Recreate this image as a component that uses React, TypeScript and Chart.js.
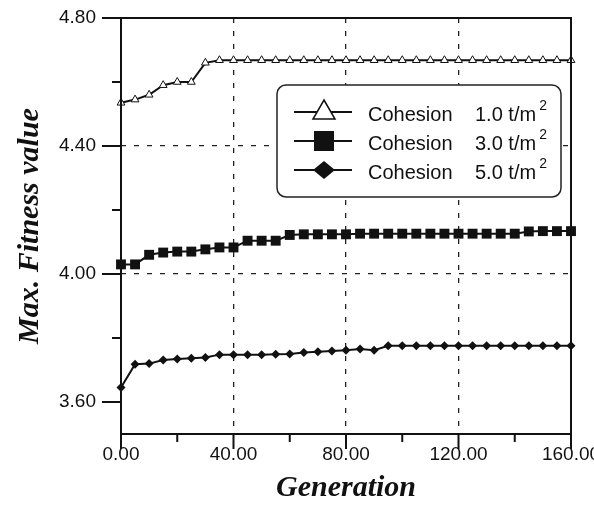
import React, { useEffect, useRef } from "react";
import { Chart, registerables } from "chart.js";

Chart.register(...registerables);

const generations = [0, 5, 10, 15, 20, 25, 30, 35, 40, 45, 50, 55, 60, 65, 70, 75, 80, 85, 90, 95, 100, 105, 110, 115, 120, 125, 130, 135, 140, 145, 150, 155, 160];

const cohesion1 = [4.535, 4.545, 4.56, 4.59, 4.6, 4.6, 4.66, 4.668, 4.668, 4.668, 4.668, 4.668, 4.668, 4.668, 4.668, 4.668, 4.668, 4.668, 4.668, 4.668, 4.668, 4.668, 4.668, 4.668, 4.668, 4.668, 4.668, 4.668, 4.668, 4.668, 4.668, 4.668, 4.668];
const cohesion3 = [4.03, 4.03, 4.06, 4.067, 4.07, 4.07, 4.077, 4.083, 4.083, 4.104, 4.104, 4.104, 4.122, 4.124, 4.124, 4.124, 4.124, 4.126, 4.126, 4.126, 4.126, 4.126, 4.126, 4.126, 4.126, 4.126, 4.126, 4.126, 4.126, 4.133, 4.134, 4.134, 4.134];
const cohesion5 = [3.645, 3.718, 3.72, 3.731, 3.734, 3.737, 3.739, 3.748, 3.748, 3.748, 3.748, 3.749, 3.75, 3.755, 3.757, 3.759, 3.762, 3.766, 3.762, 3.776, 3.776, 3.776, 3.776, 3.776, 3.776, 3.776, 3.776, 3.776, 3.776, 3.776, 3.776, 3.776, 3.776];

const xMajorTicks = [0, 40, 80, 120, 160];
const xMinorTicks = [20, 60, 100, 140];
const yMajorTicks = [3.6, 4.0, 4.4, 4.8];
const yMinorTicks = [3.8, 4.2, 4.6];
const xGridValues = [40, 80, 120];
const yGridValues = [4.0, 4.4];

const legendNames = ["Cohesion", "Cohesion", "Cohesion"];
const legendValues = ["1.0 t/m", "3.0 t/m", "5.0 t/m"];
const legendSup = "2";

const SANS = "'Liberation Sans', Arial, sans-serif";
const SERIF = "'Liberation Serif', 'Times New Roman', serif";

function toPoints(ys: number[]) {
  return generations.map((g, i) => ({ x: g, y: ys[i] }));
}

const framePlugin = {
  id: "frame",
  afterDatasetsDraw(chart: any) {
    const { ctx, chartArea, scales } = chart;
    const { left, right, top, bottom } = chartArea;
    ctx.save();
    ctx.strokeStyle = "#111";
    ctx.lineWidth = 2;
    ctx.strokeRect(left, top, right - left, bottom - top);
    ctx.lineWidth = 2;
    ctx.beginPath();
    yMajorTicks.forEach((v) => {
      const y = scales.y.getPixelForValue(v);
      ctx.moveTo(left - 19, y);
      ctx.lineTo(left, y);
    });
    yMinorTicks.forEach((v) => {
      const y = scales.y.getPixelForValue(v);
      ctx.moveTo(left - 9, y);
      ctx.lineTo(left, y);
    });
    xMajorTicks.forEach((v) => {
      const x = scales.x.getPixelForValue(v);
      ctx.moveTo(x, bottom);
      ctx.lineTo(x, bottom + 15);
    });
    xMinorTicks.forEach((v) => {
      const x = scales.x.getPixelForValue(v);
      ctx.moveTo(x, bottom);
      ctx.lineTo(x, bottom + 8);
    });
    ctx.stroke();
    ctx.restore();
  },
};

const legendPlugin = {
  id: "customLegend",
  afterDraw(chart: any) {
    const { ctx } = chart;
    ctx.save();
    const bx = 277, by = 85, bw = 284, bh = 112;
    ctx.beginPath();
    ctx.roundRect(bx, by, bw, bh, 9);
    ctx.fillStyle = "#fff";
    ctx.fill();
    ctx.lineWidth = 1.5;
    ctx.strokeStyle = "#222";
    ctx.stroke();

    const rows = [112, 141, 170];
    rows.forEach((ry, i) => {
      ctx.strokeStyle = "#111";
      ctx.lineWidth = 2;
      ctx.beginPath();
      ctx.moveTo(294, ry);
      ctx.lineTo(352, ry);
      ctx.stroke();
      const cx = 324;
      ctx.beginPath();
      if (i === 0) {
        ctx.moveTo(cx, ry - 12);
        ctx.lineTo(cx + 11, ry + 7);
        ctx.lineTo(cx - 11, ry + 7);
        ctx.closePath();
        ctx.fillStyle = "#fff";
        ctx.fill();
        ctx.lineWidth = 1.5;
        ctx.stroke();
      } else if (i === 1) {
        ctx.rect(cx - 10, ry - 10, 20, 20);
        ctx.fillStyle = "#111";
        ctx.fill();
      } else {
        ctx.moveTo(cx, ry - 9);
        ctx.lineTo(cx + 11, ry);
        ctx.lineTo(cx, ry + 9);
        ctx.lineTo(cx - 11, ry);
        ctx.closePath();
        ctx.fillStyle = "#111";
        ctx.fill();
      }
      ctx.fillStyle = "#111";
      ctx.font = `20px ${SANS}`;
      ctx.textBaseline = "middle";
      ctx.textAlign = "left";
      ctx.fillText(legendNames[i], 368, ry + 3);
      ctx.fillText(legendValues[i], 475, ry + 3);
      const w = ctx.measureText(legendValues[i]).width;
      ctx.font = `14px ${SANS}`;
      ctx.fillText(legendSup, 475 + w + 3, ry - 6);
    });
    ctx.restore();
  },
};

export default function App() {
  const ref = useRef<HTMLCanvasElement | null>(null);

  useEffect(() => {
    if (!ref.current) return;
    const chart = new Chart(ref.current, {
      type: "line",
      data: {
        datasets: [
          {
            label: "Cohesion 1.0 t/m2",
            data: toPoints(cohesion1),
            borderColor: "#111",
            borderWidth: 2,
            pointStyle: "triangle",
            pointRadius: 4.5,
            pointBackgroundColor: "#fff",
            pointBorderColor: "#111",
            pointBorderWidth: 1,
            tension: 0,
            clip: false,
          },
          {
            label: "Cohesion 3.0 t/m2",
            data: toPoints(cohesion3),
            borderColor: "#111",
            borderWidth: 2,
            pointStyle: "rect",
            pointRadius: 7,
            pointBackgroundColor: "#111",
            pointBorderColor: "#111",
            pointBorderWidth: 0,
            tension: 0,
            clip: false,
          },
          {
            label: "Cohesion 5.0 t/m2",
            data: toPoints(cohesion5),
            borderColor: "#111",
            borderWidth: 2,
            pointStyle: "rectRot",
            pointRadius: 4.5,
            pointBackgroundColor: "#111",
            pointBorderColor: "#111",
            pointBorderWidth: 0,
            tension: 0,
            clip: false,
          },
        ],
      },
      options: {
        animation: false,
        responsive: false,
        layout: { padding: { top: 18, right: 23, left: 0, bottom: 0 } },
        plugins: { legend: { display: false }, tooltip: { enabled: false } },
        scales: {
          x: {
            type: "linear",
            min: 0,
            max: 160,
            afterFit: (s: any) => { s.height = 72; s.paddingLeft = 0; s.paddingRight = 0; },
            afterBuildTicks: (s: any) => { s.ticks = xMajorTicks.map((v) => ({ value: v })); },
            ticks: {
              color: "#111",
              font: { family: SANS, size: 19 },
              padding: 9,
              maxRotation: 0,
              autoSkip: false,
              callback: (v: any) => Number(v).toFixed(2),
            },
            grid: {
              drawTicks: false,
              color: (c: any) => (c.tick && xGridValues.includes(c.tick.value) ? "#222" : "rgba(0,0,0,0)"),
              lineWidth: 1.3,
            },
            border: { display: false, dash: [5, 8] },
            title: {
              display: true,
              text: "Generation",
              color: "#111",
              font: { family: SERIF, size: 30, style: "italic", weight: "bold" },
              padding: { top: 0, bottom: 0 },
            },
          },
          y: {
            type: "linear",
            min: 3.5,
            max: 4.8,
            afterFit: (s: any) => { s.width = 121; s.paddingTop = 0; s.paddingBottom = 0; },
            afterBuildTicks: (s: any) => { s.ticks = yMajorTicks.map((v) => ({ value: v })); },
            ticks: {
              color: "#111",
              font: { family: SANS, size: 19 },
              padding: 25,
              autoSkip: false,
              callback: (v: any) => Number(v).toFixed(2),
            },
            grid: {
              drawTicks: false,
              color: (c: any) => (c.tick && yGridValues.some((g) => Math.abs(g - c.tick.value) < 1e-6) ? "#222" : "rgba(0,0,0,0)"),
              lineWidth: 1.3,
            },
            border: { display: false, dash: [5, 8] },
            title: {
              display: true,
              text: "Max. Fitness value",
              color: "#111",
              font: { family: SERIF, size: 30, style: "italic", weight: "bold" },
              padding: { top: 12, bottom: 0 },
            },
          },
        },
      },
      plugins: [framePlugin, legendPlugin],
    } as any);
    return () => chart.destroy();
  }, []);

  return (
    <div style={{ position: "absolute", left: 0, top: 0, width: 594, height: 506, background: "#fff" }}>
      <canvas ref={ref} width={594} height={506} style={{ display: "block" }} />
    </div>
  );
}
